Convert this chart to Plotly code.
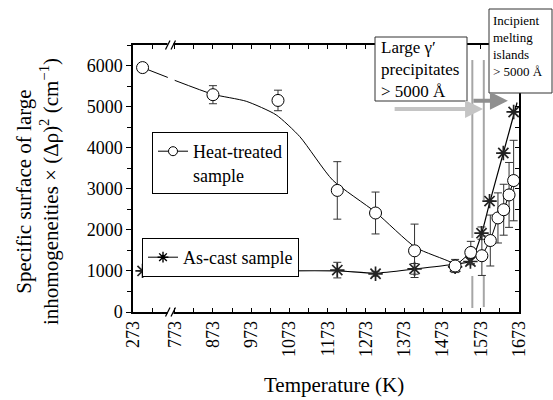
import plotly.graph_objects as go

SERIF = "Liberation Serif, Times New Roman, serif"

# ---------------- data ----------------
x_tick_temps = [273, 773, 873, 973, 1073, 1173, 1273, 1373, 1473, 1573, 1673]
x_tick_labels = ["273", "773", "873", "973", "1073", "1173", "1273", "1373", "1473", "1573", "1673"]
x_minor_temps = [323, 823, 923, 1023, 1123, 1223, 1323, 1423, 1523, 1623]
y_tick_vals = [0, 1000, 2000, 3000, 4000, 5000, 6000]

# heat-treated sample (open circles)
ht_T = [298, 873, 1043, 1198, 1298, 1400, 1506, 1547, 1576, 1598, 1618, 1633, 1647, 1659]
ht_val = [5950, 5290, 5150, 2960, 2410, 1490, 1120, 1450, 1370, 1740, 2290, 2490, 2850, 3200]
ht_err = [90, 220, 250, 700, 510, 650, 160, 270, 480, 620, 610, 620, 790, 980]

# as-cast sample (asterisks)
ac_T = [298, 1198, 1298, 1400, 1506, 1546, 1575, 1596, 1632, 1659]
ac_val = [1000, 1020, 930, 1050, 1100, 1230, 1920, 2700, 3870, 4870]
ac_err = [0, 190, 60, 130, 70, 80, 150, 0, 0, 0]

# guide curves drawn by the authors
ht_fit_lo_T = [298, 364]
ht_fit_lo_v = [5950, 5710]
ht_fit_hi_T = [773, 873, 960, 1038, 1100, 1186, 1298, 1403, 1493, 1506]
ht_fit_hi_v = [5640, 5300, 5130, 4800, 4270, 3210, 2430, 1570, 1220, 1130]
ac_fit_T = [298, 364, 773, 1000, 1198, 1298, 1403, 1493, 1546, 1575, 1596, 1632, 1668]
ac_fit_v = [1000, 1000, 1000, 1000, 1000, 945, 1050, 1150, 1240, 1900, 2650, 3870, 5100]

# temperatures of the two vertical guide lines
guide_T = [1551, 1581]


def disp(T):
    """broken x axis: the 273.. K segment is shifted next to the 773.. K segment"""
    return T + 391 if T < 600 else T


def D(arr):
    return [disp(t) for t in arr]


X0, X1 = disp(273), 1673
Y0, Y1 = 0, 6500

fig = go.Figure()

# guide curves
fig.add_trace(go.Scatter(x=D(ht_fit_lo_T), y=ht_fit_lo_v, mode="lines",
                         line=dict(color="black", width=1), showlegend=False, hoverinfo="skip"))
fig.add_trace(go.Scatter(x=D(ht_fit_hi_T), y=ht_fit_hi_v, mode="lines",
                         line=dict(color="black", width=1, shape="spline", smoothing=0.6),
                         showlegend=False, hoverinfo="skip"))
cl_T = [t for t in ht_T if t >= 1506]
cl_v = [v for t, v in zip(ht_T, ht_val) if t >= 1506]
fig.add_trace(go.Scatter(x=D(cl_T), y=cl_v, mode="lines",
                         line=dict(color="black", width=1), showlegend=False, hoverinfo="skip"))
fig.add_trace(go.Scatter(x=D(ac_fit_T), y=ac_fit_v, mode="lines",
                         line=dict(color="black", width=1.2, shape="spline", smoothing=0.6),
                         showlegend=False, hoverinfo="skip"))

# data points
fig.add_trace(go.Scatter(
    x=D(ac_T), y=ac_val, mode="markers", showlegend=False,
    error_y=dict(type="data", array=ac_err, color="#333333", thickness=1, width=4),
    marker=dict(symbol="asterisk-open", size=12, color="#222222", line=dict(color="#222222", width=1.7))))
fig.add_trace(go.Scatter(
    x=D(ht_T), y=ht_val, mode="markers", showlegend=False,
    error_y=dict(type="data", array=ht_err, color="#333333", thickness=1, width=4),
    marker=dict(symbol="circle", size=12, color="white", line=dict(color="black", width=1))))

# legend entries
fig.add_trace(go.Scatter(x=[None], y=[None], mode="lines+markers", name="Heat-treated<br>sample",
                         line=dict(color="black", width=1),
                         marker=dict(symbol="circle", size=9, color="white", line=dict(color="black", width=1)),
                         legend="legend"))
fig.add_trace(go.Scatter(x=[None], y=[None], mode="lines+markers", name="As-cast sample",
                         line=dict(color="black", width=1),
                         marker=dict(symbol="asterisk-open", size=9, color="black", line=dict(color="black", width=1.4)),
                         legend="legend2"))

# invisible trace for the mirrored axes
fig.add_trace(go.Scatter(x=[X0], y=[Y0], xaxis="x2", yaxis="y2", mode="markers",
                         marker=dict(opacity=0), showlegend=False, hoverinfo="skip"))

shapes = []
# vertical gray guide lines (with gaps)
g1, g2 = guide_T
for (xx, ya, yb) in [(g1, 6134, 1801), (g1, 876, 97), (g2, 6134, 2726), (g2, 900, 122)]:
    shapes.append(dict(type="line", xref="x", yref="y", x0=xx, x1=xx, y0=ya, y1=yb,
                       line=dict(color="#a6a6a6", width=2), layer="below"))


def px(xp):
    return (xp - 133) / 386.0


def py(yp):
    return (312 - yp) / 267.0


# axis breaks
for yb in (312, 45):
    shapes.append(dict(type="rect", xref="paper", yref="paper", x0=px(167.5), x1=px(173.5),
                       y0=py(yb + 2), y1=py(yb - 2), fillcolor="white", line=dict(width=0), layer="above"))
    for xs in (165.5, 171):
        shapes.append(dict(type="line", xref="paper", yref="paper", x0=px(xs), x1=px(xs + 4.5),
                           y0=py(yb + 4.5), y1=py(yb - 4.5), line=dict(color="black", width=1.2), layer="above"))

# text boxes
shapes.append(dict(type="rect", xref="paper", yref="paper", x0=px(375), x1=px(467), y0=py(101), y1=py(37),
                   fillcolor="white", line=dict(color="#333333", width=1), layer="above"))
shapes.append(dict(type="rect", xref="paper", yref="paper", x0=px(489), x1=px(552), y0=py(93), y1=py(9),
                   fillcolor="white", line=dict(color="#333333", width=1), layer="above"))

annotations = [
    dict(xref="paper", yref="paper", x=px(379), y=py(36), xanchor="left", yanchor="top",
         text="Large γ′<br>precipitates<br>> 5000 Å", showarrow=False, align="left",
         font=dict(family=SERIF, size=17, color="black")),
    dict(xref="paper", yref="paper", x=px(491), y=py(11), xanchor="left", yanchor="top",
         text="Incipient<br>melting<br>islands<br>> 5000 Å", showarrow=False, align="left",
         font=dict(family=SERIF, size=13, color="black")),
    # arrows
    dict(xref="x", yref="y", axref="x", ayref="y", x=1579, y=4942, ax=1344, ay=4942, text="",
         showarrow=True, arrowhead=2, arrowsize=0.9, arrowwidth=4, arrowcolor="#c4c4c4"),
    dict(xref="x", yref="y", axref="x", ayref="y", x=1644, y=5144, ax=1550, ay=5144, text="",
         showarrow=True, arrowhead=2, arrowsize=0.9, arrowwidth=4, arrowcolor="#8f8f8f"),
    # axis titles
    dict(xref="paper", yref="paper", x=px(37), y=py(192), xanchor="center", yanchor="middle",
         text="Specific surface of large<br>inhomogeneities × (Δρ)<sup>2</sup> (cm<sup>−1</sup>)",
         textangle=-90, showarrow=False, font=dict(family=SERIF, size=21, color="black")),
    dict(xref="paper", yref="paper", x=px(334), y=py(385), xanchor="center", yanchor="middle",
         text="Temperature (K)", showarrow=False, font=dict(family=SERIF, size=21, color="black")),
]

axis_common = dict(showgrid=False, zeroline=False, showline=True, linecolor="black", linewidth=1.5)

fig.update_layout(
    width=553, height=400,
    margin=dict(l=133, r=34, t=45, b=88),
    paper_bgcolor="white", plot_bgcolor="white",
    font=dict(family=SERIF, size=17, color="black"),
    xaxis=dict(range=[X0, X1], tickmode="array", tickvals=D(x_tick_temps), ticktext=x_tick_labels,
               ticks="inside", ticklen=4, tickwidth=1, tickcolor="black", tickangle=-90,
               tickfont=dict(family=SERIF, size=18),
               minor=dict(tickmode="array", tickvals=D(x_minor_temps), ticks="inside", ticklen=4,
                          tickcolor="black", tickwidth=1),
               **axis_common),
    xaxis2=dict(range=[X0, X1], overlaying="x", side="top", anchor="y", showticklabels=False,
                tickmode="array", tickvals=D(x_tick_temps), ticks="inside", ticklen=4, tickcolor="black",
                minor=dict(tickmode="array", tickvals=D(x_minor_temps), ticks="inside", ticklen=4,
                           tickcolor="black"),
                **axis_common),
    yaxis=dict(range=[Y0, Y1], tickmode="array", tickvals=y_tick_vals, ticks="outside", ticklen=5,
               tickwidth=1, tickcolor="black", tickfont=dict(family=SERIF, size=18),
               minor=dict(dtick=500, tick0=0, ticks="outside", ticklen=4, tickcolor="black"),
               **axis_common),
    yaxis2=dict(range=[Y0, Y1], overlaying="y", side="right", anchor="x", showticklabels=False,
                tickmode="array", tickvals=y_tick_vals, ticks="inside", ticklen=4, tickcolor="black",
                minor=dict(dtick=500, tick0=0, ticks="inside", ticklen=4, tickcolor="black"),
                **axis_common),
    legend=dict(x=px(152), y=py(132), xanchor="left", yanchor="top", bgcolor="white",
                bordercolor="black", borderwidth=1, font=dict(family=SERIF, size=18),
                valign="top", itemwidth=30, tracegroupgap=0),
    legend2=dict(x=px(142), y=py(238), xanchor="left", yanchor="top", bgcolor="white",
                 bordercolor="black", borderwidth=1, font=dict(family=SERIF, size=18),
                 itemwidth=30, tracegroupgap=0),
    shapes=shapes,
    annotations=annotations,
)

fig.write_html("out.html")
